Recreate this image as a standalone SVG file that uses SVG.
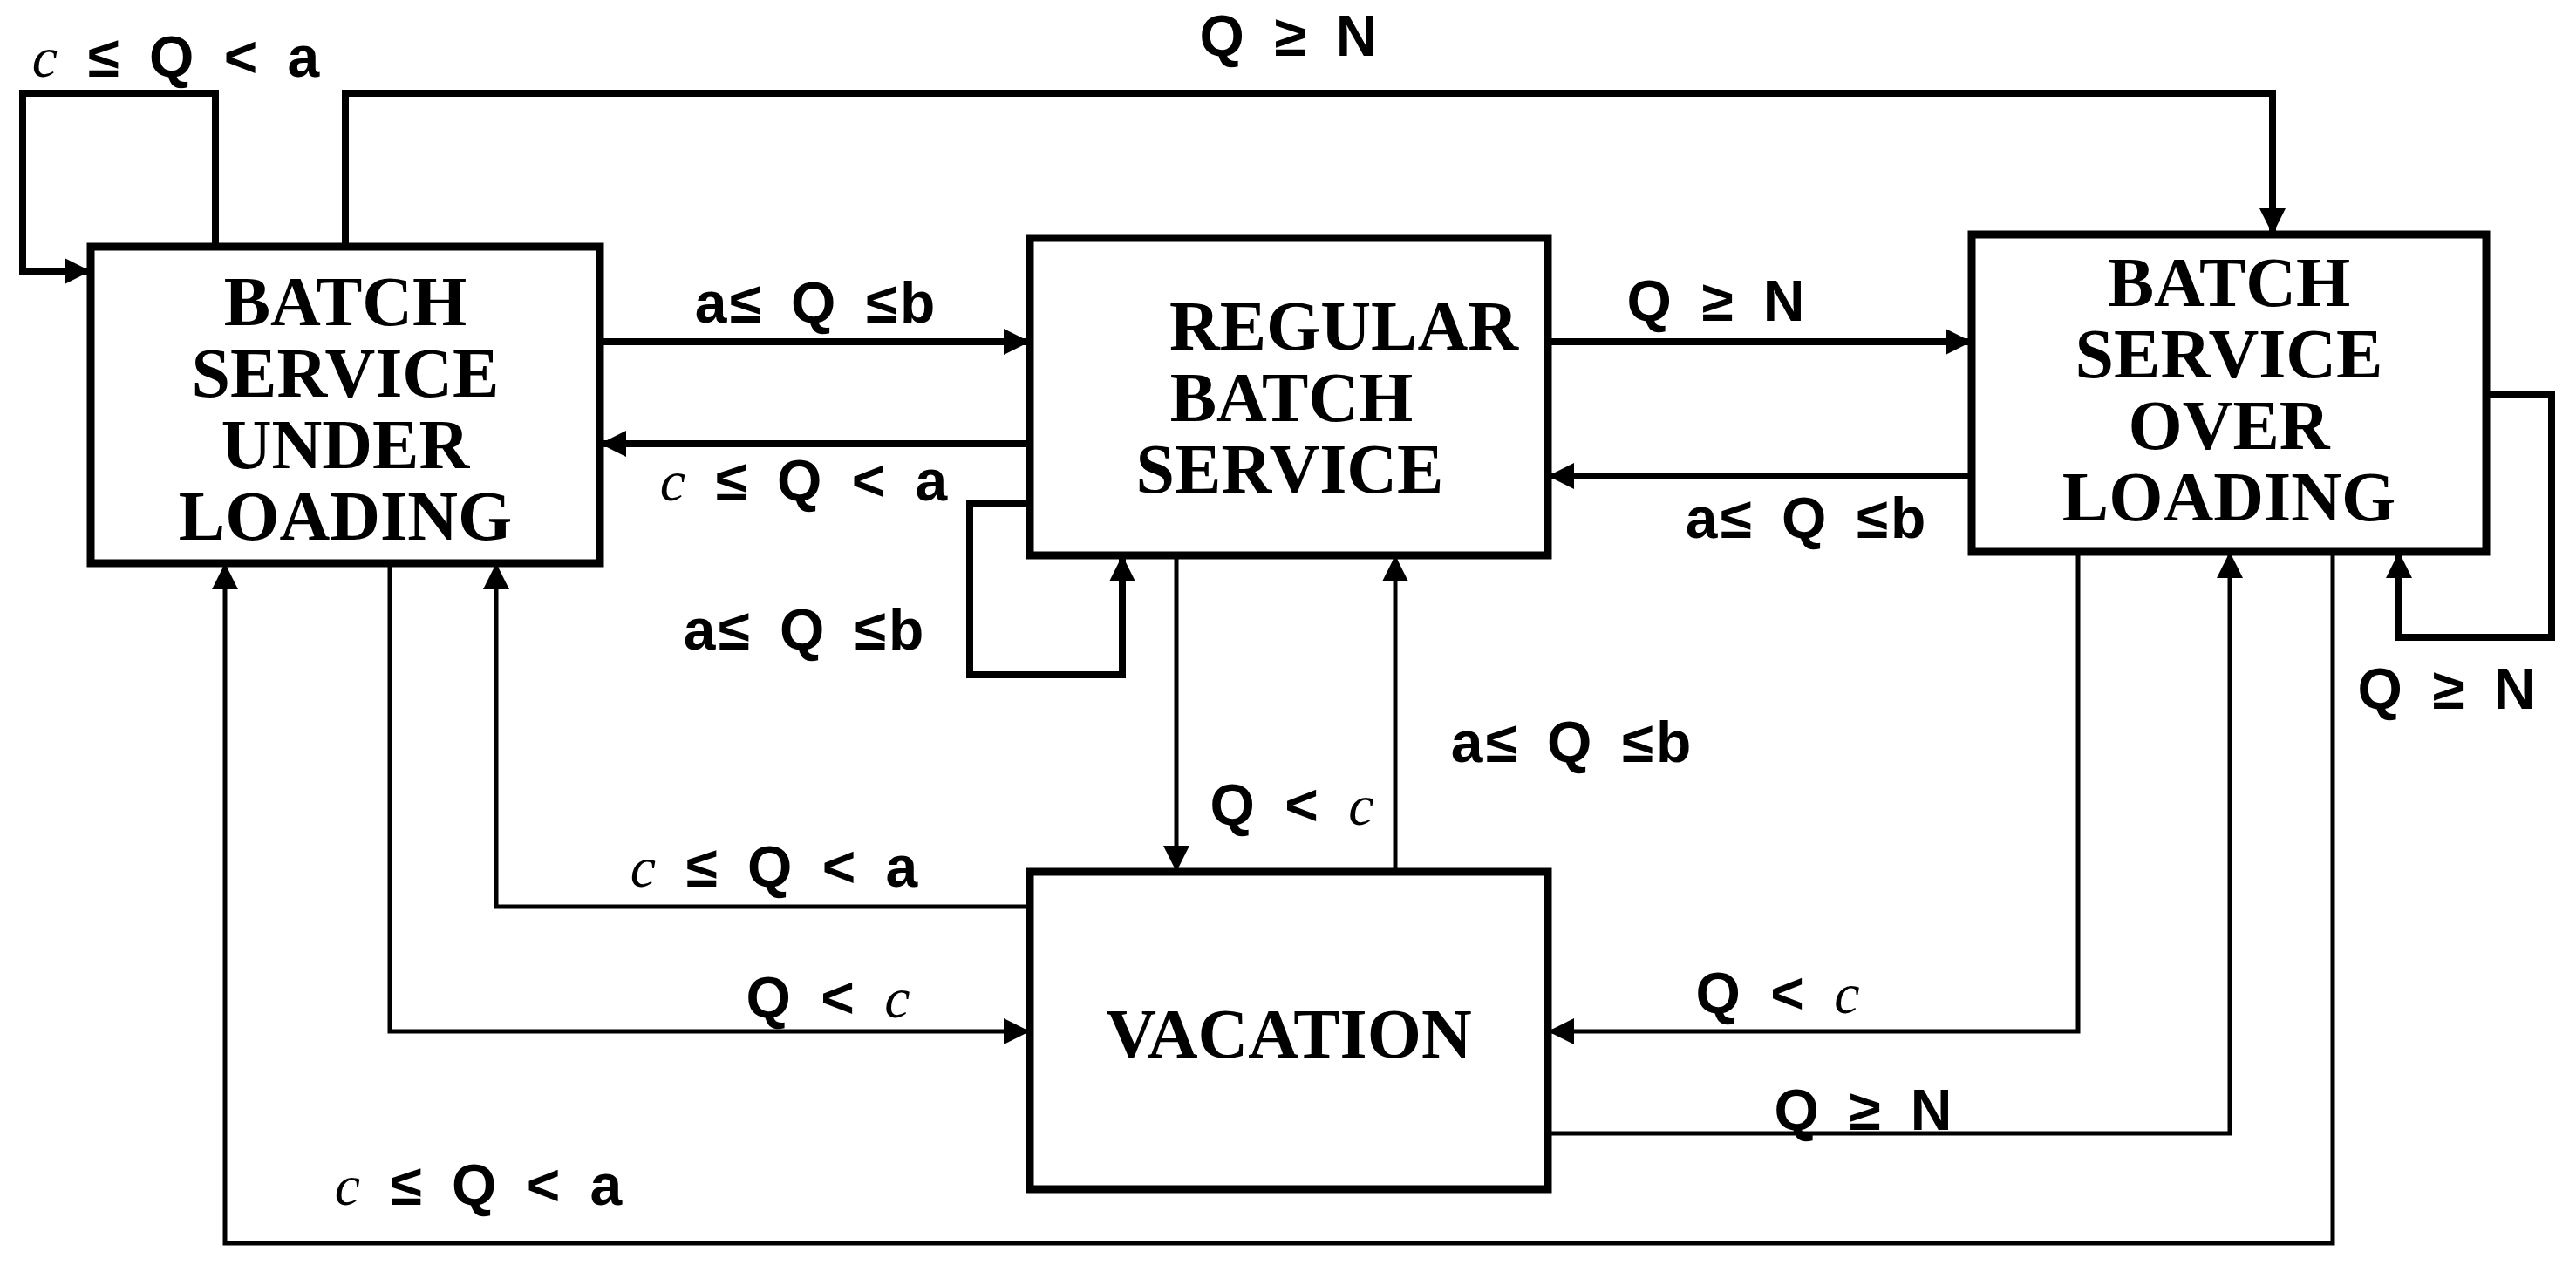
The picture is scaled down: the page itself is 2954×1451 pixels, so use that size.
<svg xmlns="http://www.w3.org/2000/svg" width="2954" height="1451" viewBox="0 0 2954 1451">
<style>
.box{fill:#fff;stroke:#000;stroke-width:9}
.bt{font-family:"Liberation Serif",serif;font-weight:bold;font-size:80px;text-anchor:middle}
.c{fill:none;stroke:#000;stroke-width:8;marker-end:url(#a2)}
.t{stroke-width:5}
.l{font-family:"Liberation Sans",sans-serif;font-weight:bold;font-size:66px;text-anchor:middle;word-spacing:10px;letter-spacing:3px}
.i{font-family:"Liberation Serif",serif;font-style:italic;font-weight:normal}
</style>
<defs><marker id="a2" viewBox="0 0 10 10" refX="10" refY="5" markerWidth="30" markerHeight="30" markerUnits="userSpaceOnUse" orient="auto"><path d="M0,0L10,5L0,10z"/></marker></defs>
<rect width="2954" height="1451" fill="#fff"/>
<g id="connectors">
<path class="c" d="M247,283V107H26V311H104"/>
<path class="c" d="M396,283V107H2606V269"/>
<path class="c" d="M688,392H1181"/>
<path class="c" d="M1181,509H688"/>
<path class="c" d="M1181,577H1112V774H1287V637"/>
<path class="c" d="M1775,392H2261"/>
<path class="c" d="M2261,546H1775"/>
<path class="c" d="M2851,452H2926V731H2751V633"/>
<path class="c t" d="M1349,637V1000"/>
<path class="c t" d="M1600,1000V637"/>
<path class="c t" d="M1181,1040H569V646"/>
<path class="c t" d="M447,646V1183H1181"/>
<path class="c t" d="M2383,633V1183H1775"/>
<path class="c t" d="M1775,1300H2557V633"/>
<path class="c t" d="M2675,633V1426H258V646"/>
</g>
<g id="n_under"><rect class="box" x="104" y="283" width="584" height="363"/>
<text class="bt" x="396" y="373">BATCH</text><text class="bt" x="396" y="455">SERVICE</text><text class="bt" x="396" y="537">UNDER</text><text class="bt" x="396" y="619">LOADING</text></g>
<g id="n_regular"><rect class="box" x="1181" y="273" width="594" height="364"/>
<text class="bt" x="1541" y="401">REGULAR</text><text class="bt" x="1481" y="483">BATCH</text><text class="bt" x="1479" y="565">SERVICE</text></g>
<g id="n_over"><rect class="box" x="2261" y="269" width="590" height="364"/>
<text class="bt" x="2556" y="351">BATCH</text><text class="bt" x="2556" y="433">SERVICE</text><text class="bt" x="2556" y="515">OVER</text><text class="bt" x="2556" y="597">LOADING</text></g>
<g id="n_vacation"><rect class="box" x="1181" y="1000" width="594" height="364"/>
<text class="bt" x="1478" y="1213">VACATION</text></g>
<g id="labels">
<text class="l" x="203" y="88"><tspan class="i">c</tspan> ≤ Q &lt; a</text>
<text class="l" x="1479" y="64">Q ≥ N</text>
<text class="l" x="936" y="370">a≤ Q ≤b</text>
<text class="l" x="923" y="574"><tspan class="i">c</tspan> ≤ Q &lt; a</text>
<text class="l" x="923" y="745">a≤ Q ≤b</text>
<text class="l" x="1969" y="368">Q ≥ N</text>
<text class="l" x="2072" y="617">a≤ Q ≤b</text>
<text class="l" x="2807" y="813">Q ≥ N</text>
<text class="l" x="1483" y="946">Q &lt; <tspan class="i">c</tspan></text>
<text class="l" x="1803" y="874">a≤ Q ≤b</text>
<text class="l" x="889" y="1017"><tspan class="i">c</tspan> ≤ Q &lt; a</text>
<text class="l" x="951" y="1167">Q &lt; <tspan class="i">c</tspan></text>
<text class="l" x="2040" y="1162">Q &lt; <tspan class="i">c</tspan></text>
<text class="l" x="2138" y="1296">Q ≥ N</text>
<text class="l" x="550" y="1382"><tspan class="i">c</tspan> ≤ Q &lt; a</text>
</g>
</svg>
